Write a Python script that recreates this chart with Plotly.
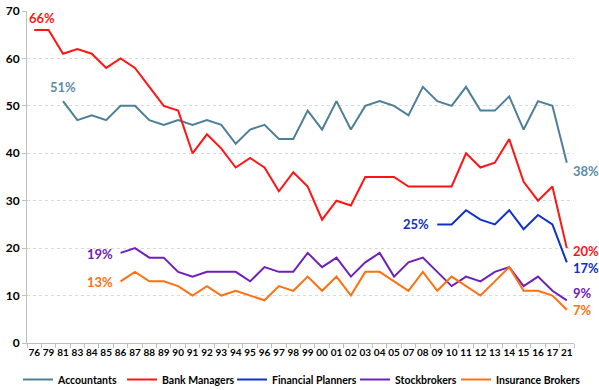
import plotly.graph_objects as go

years = ["76","79","81","83","84","85","86","87","88","89","90","91","92","93","94","95","96","97","98","99",
         "00","01","02","03","04","05","07","08","09","10","11","12","13","14","15","16","17","21"]

accountants = [None, None, 51, 47, 48, 47, 50, 50, 47, 46, 47, 46, 47, 46, 42, 45, 46, 43, 43, 49,
               45, 51, 45, 50, 51, 50, 48, 54, 51, 50, 54, 49, 49, 52, 45, 51, 50, 38]
bank_managers = [66, 66, 61, 62, 61, 58, 60, 58, 54, 50, 49, 40, 44, 41, 37, 39, 37, 32, 36, 33,
                 26, 30, 29, 35, 35, 35, 33, 33, 33, 33, 40, 37, 38, 43, 34, 30, 33, 20]
financial_planners = [None]*28 + [25, 25, 28, 26, 25, 28, 24, 27, 25, 17]
stockbrokers = [None]*6 + [19, 20, 18, 18, 15, 14, 15, 15, 15, 13, 16, 15, 15, 19,
                           16, 18, 14, 17, 19, 14, 17, 18, 15, 12, 14, 13, 15, 16, 12, 14, 11, 9]
insurance_brokers = [None]*6 + [13, 15, 13, 13, 12, 10, 12, 10, 11, 10, 9, 12, 11, 14,
                                11, 14, 10, 15, 15, 13, 11, 15, 11, 14, 12, 10, 13, 16, 11, 11, 10, 7]

names = ["Accountants", "Bank Managers", "Financial Planners", "Stockbrokers", "Insurance Brokers"]
colors = ["#4D7F98", "#FF1414", "#1030C8", "#7020B8", "#FF7010"]
label_colors = ["#5A8CA8", "#FF1414", "#1030C8", "#7020B8", "#FF7010"]
series = [accountants, bank_managers, financial_planners, stockbrokers, insurance_brokers]

# figure geometry in pixels
W, H = 599, 390
LEGEND_TOP = 365
ML, MR, MT, MB = 27, 25, 11, 47

legend_ids = ["legend", "legend2", "legend3", "legend4", "legend5"]
legend_left_px = [18, 122, 232, 355, 456]

fig = go.Figure()
for n, c, s, lid in zip(names, colors, series, legend_ids):
    fig.add_trace(go.Scatter(x=years, y=s, name=n, mode="lines", legend=lid,
                             line=dict(color=c, width=2), connectgaps=False))

def first_idx(s):
    return next(i for i, v in enumerate(s) if v is not None)

font_lbl = dict(family="Lato, Open Sans, sans-serif", size=13)
# start labels (x given as category index)
starts = [
    (0, dict(xanchor="center", yanchor="bottom", xshift=0, yshift=4)),
    (1, dict(xanchor="center", yanchor="bottom", xshift=8, yshift=2)),
    (2, dict(xanchor="right", yanchor="middle", xshift=-6, yshift=0)),
    (3, dict(xanchor="right", yanchor="middle", xshift=-6, yshift=-1)),
    (4, dict(xanchor="right", yanchor="middle", xshift=-6, yshift=-1)),
]
for k, opts in starts:
    s = series[k]
    i = first_idx(s)
    fig.add_annotation(x=i, y=s[i], text=f"<b>{s[i]}%</b>", showarrow=False,
                       font=dict(color=label_colors[k], **font_lbl), **opts)
# end labels
last = len(years) - 1
end_shifts = [-8, -3, -6, 7, 0]
for k in range(5):
    s = series[k]
    fig.add_annotation(x=last, y=s[-1], text=f"<b>{s[-1]}%</b>", showarrow=False,
                       xanchor="left", yanchor="middle", xshift=4, yshift=end_shifts[k],
                       font=dict(color=label_colors[k], **font_lbl))

legend_common = dict(orientation="h", xref="container", yref="container",
                     xanchor="left", yanchor="top", y=1 - LEGEND_TOP / H,
                     font=dict(size=10.5, family="Lato, sans-serif", weight="bold"),
                     itemwidth=30, tracegroupgap=0, bgcolor="rgba(0,0,0,0)")
legends = {lid: dict(x=px / W, **legend_common)
           for lid, px in zip(legend_ids, legend_left_px)}

fig.update_layout(
    width=W, height=H,
    margin=dict(l=ML, r=MR, t=MT, b=MB),
    plot_bgcolor="white", paper_bgcolor="white",
    font=dict(family="Lato, Open Sans, sans-serif", color="#000000"),
    showlegend=True,
    **legends,
    xaxis=dict(type="category", range=[-0.5, len(years) - 0.5], showgrid=False,
               showline=True, linecolor="#BFBFBF", linewidth=1, automargin=False,
               ticks="outside", ticklen=4, tickcolor="#BFBFBF", tickson="boundaries",
               tickfont=dict(size=10, weight="bold"), tickangle=0),
    yaxis=dict(range=[0, 70], dtick=10, showgrid=True, gridcolor="#D9D9D9", griddash="dot",
               gridwidth=1, showline=True, linecolor="#BFBFBF", linewidth=1, automargin=False,
               ticks="outside", ticklen=4, tickcolor="#BFBFBF",
               tickfont=dict(size=12, weight="bold"), zeroline=False),
)

fig.write_html("out.html", config={"displayModeBar": False},
               post_script="document.body.style.margin='0px';")
